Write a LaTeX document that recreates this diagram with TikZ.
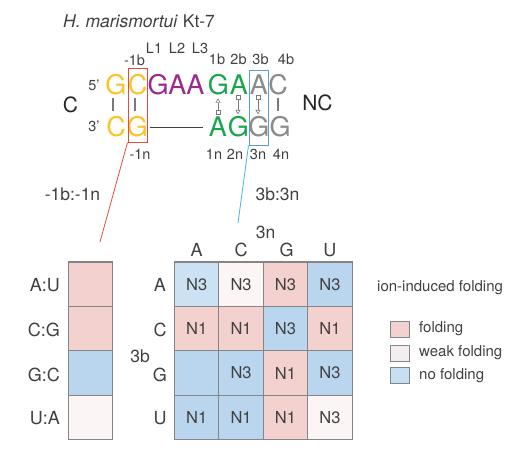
\documentclass[tikz,border=0pt]{standalone}
\usepackage{fontspec}
\setmainfont{TeX Gyre Heros}
\usetikzlibrary{arrows.meta}
\definecolor{txt}{HTML}{404040}
\definecolor{yel}{HTML}{FBC42B}
\definecolor{pur}{HTML}{9B2A8D}
\definecolor{grn}{HTML}{19A64B}
\definecolor{gryN}{HTML}{8A8A8A}
\definecolor{barc}{HTML}{7A7A7A}
\definecolor{redb}{HTML}{E8493F}
\definecolor{blub}{HTML}{5E9CD3}
\definecolor{cyanl}{HTML}{46B3E6}
\definecolor{gridc}{HTML}{858585}
\definecolor{pk}{HTML}{F2D1CF}
\definecolor{bl}{HTML}{B9D6EE}
\definecolor{lb}{HTML}{CCE2F4}
\definecolor{wp}{HTML}{FCF5F5}
\definecolor{wg}{HTML}{F3EFEE}
\definecolor{lgb}{HTML}{C7DFF3}
\begin{document}
\begin{tikzpicture}[x=1pt,y=-1pt,
  every node/.style={inner sep=0pt, text=txt},
  big/.style={font=\fontsize{27}{30}\selectfont, anchor=base},
  lab/.style={font=\fontsize{14.5}{16}\selectfont, anchor=base},
  mid/.style={font=\fontsize{15}{17}\selectfont},
  pl/.style={font=\fontsize{17.5}{20}\selectfont},
  hdr/.style={font=\fontsize{18}{20}\selectfont},
  cell/.style={draw=gridc, line width=1.1pt, minimum width=44.4pt, minimum height=44.4pt, font=\fontsize{16.5}{18}\selectfont},
  bar/.style={draw=barc, line width=1.1pt},
  sq/.style={draw=barc, line width=0.6pt, minimum size=4.3pt},
  harrow/.style={draw=barc, line width=0.6pt, -{Triangle[open, width=5pt, length=4.4pt]}},
  swatch/.style={draw=gridc, line width=0.8pt, minimum width=19pt, minimum height=16pt}
]
\useasboundingbox (0,0) rectangle (517,450);

% title
\node[anchor=base west, font=\fontsize{17.5}{20}\selectfont] (title) at (63,27.5) {\textit{H. marismortui} Kt-7};

% side labels
\node[anchor=base, font=\fontsize{21}{24}\selectfont, text=black!85] (Cl) at (70.5,112) {C};
\node[anchor=base, font=\fontsize{21}{24}\selectfont, text=black!85] (NCl) at (317.5,110.5) {NC};
\node[lab] (p5) at (94,90.5) {5'};
\node[lab] (p3) at (94,131.5) {3'};

% top strand
\node[big, text=yel] (t1) at (116,94) {G};
\node[big, text=yel] (t2) at (137.5,94) {C};
\node[big, text=pur] (loop) at (176,94) {GAA};
\node[big, text=grn] (t3) at (218.5,94) {G};
\node[big, text=grn] (t4) at (239,94) {A};
\node[big, text=gryN] (t5) at (259,94) {A};
\node[big, text=gryN] (t6) at (278,94) {C};
% bottom strand
\node[big, text=yel] (b1) at (116,136) {C};
\node[big, text=yel] (b2) at (137.5,136) {G};
\node[big, text=grn] (b3) at (218,136) {A};
\node[big, text=grn] (b4) at (238.5,136) {G};
\node[big, text=gryN] (b5) at (259,136) {G};
\node[big, text=gryN] (b6) at (280,136) {G};

% base-pair bars
\coordinate (k1a) at (113,98); \coordinate (k1b) at (113,111);
\coordinate (k2a) at (135,98); \coordinate (k2b) at (135,111);
\coordinate (k3a) at (278,98); \coordinate (k3b) at (278,111);
\draw[bar] (k1a) -- (k1b);
\draw[bar] (k2a) -- (k2b);
\draw[bar] (k3a) -- (k3b);
% backbone line
\coordinate (lnA) at (150,127); \coordinate (lnB) at (203,127);
\draw[draw=txt, line width=0.8pt] (lnA) -- (lnB);

% non-canonical interaction symbols
\node[sq] (s1) at (218,112) {};
\coordinate (e1) at (218,98.3);
\draw[harrow] (s1.north) -- (e1);
\node[sq] (s2) at (238,97.3) {};
\coordinate (e2) at (238,114.3);
\draw[harrow] (s2.south) -- (e2);
\node[sq] (s3) at (258,97.3) {};
\coordinate (e3) at (258,114.3);
\draw[harrow] (s3.south) -- (e3);

% position labels
\node[lab] (lm1b) at (134.5,65) {-1b};
\node[lab] (lL1) at (154,53.5) {L1};
\node[lab] (lL2) at (177,53.5) {L2};
\node[lab] (lL3) at (200,53.5) {L3};
\node[lab] (l1b) at (217,64.5) {1b};
\node[lab] (l2b) at (238.5,64.5) {2b};
\node[lab] (l3b) at (260.5,64.5) {3b};
\node[lab] (l4b) at (286,64.5) {4b};
\node[lab] (lm1n) at (140,159.5) {-1n};
\node[lab] (l1n) at (214,159.5) {1n};
\node[lab] (l2n) at (235,159.5) {2n};
\node[lab] (l3n) at (258,159.5) {3n};
\node[lab] (l4n) at (281,159.5) {4n};

% highlight boxes
\node[draw=redb, line width=1pt, minimum width=19pt, minimum height=74pt] (redbox) at (137.5,105) {};
\node[draw=blub, line width=1pt, minimum width=19pt, minimum height=75pt] (bluebox) at (258.5,107.5) {};
\coordinate (redend) at (100,242);
\coordinate (blueend) at (238,223);
\draw[redb, line width=0.8pt] (redbox.south west) -- (redend);
\draw[cyanl, line width=0.8pt] (bluebox.south west) -- (blueend);

\node[pl] (pairlab) at (72.5,194) {-1b:-1n};
\node[pl] (pairlab2) at (277.5,194) {3b:3n};
\node[pl] (lab3n) at (265.5,232) {3n};
\node[pl] (lab3b) at (140,356.5) {3b};

% left column
\node[cell, fill=pk] (c1) at (90.5,284.2) {};
\node[cell, fill=pk] (c2) at (90.5,328.6) {};
\node[cell, fill=bl] (c3) at (90.5,373) {};
\node[cell, fill=wp] (c4) at (90.5,417.4) {};
\node[hdr, anchor=east] (r1) at (60,285) {A:U};
\node[hdr, anchor=east] (r2) at (60,330) {C:G};
\node[hdr, anchor=east] (r3) at (60,374.5) {G:C};
\node[hdr, anchor=east] (r4) at (60,418) {U:A};

% column and row headers
\node[hdr] (hA) at (196.7,250) {A};
\node[hdr] (hC) at (241.1,250) {C};
\node[hdr] (hG) at (286.5,250) {G};
\node[hdr] (hU) at (329.9,250) {U};
\node[hdr] (vA) at (160,285) {A};
\node[hdr] (vC) at (160,330) {C};
\node[hdr] (vG) at (160,375) {G};
\node[hdr] (vU) at (160,418) {U};

% matrix
\node[cell, fill=lb] (m11) at (196.7,284.2) {N3};
\node[cell, fill=wp] (m12) at (241.1,284.2) {N3};
\node[cell, fill=pk] (m13) at (285.5,284.2) {N3};
\node[cell, fill=bl] (m14) at (329.9,284.2) {N3};
\node[cell, fill=pk] (m21) at (196.7,328.6) {N1};
\node[cell, fill=pk] (m22) at (241.1,328.6) {N1};
\node[cell, fill=bl] (m23) at (285.5,328.6) {N3};
\node[cell, fill=pk] (m24) at (329.9,328.6) {N1};
\node[cell, fill=bl] (m31) at (196.7,373) {};
\node[cell, fill=bl] (m32) at (241.1,373) {N3};
\node[cell, fill=pk] (m33) at (285.5,373) {N1};
\node[cell, fill=bl] (m34) at (329.9,373) {N3};
\node[cell, fill=bl] (m41) at (196.7,417.4) {N1};
\node[cell, fill=bl] (m42) at (241.1,417.4) {N1};
\node[cell, fill=pk] (m43) at (285.5,417.4) {N1};
\node[cell, fill=wp] (m44) at (329.9,417.4) {N3};

% legend
\node[mid, anchor=west] (legt) at (377,288) {ion-induced folding};
\node[swatch, fill=pk] (sw1) at (399.5,329.5) {};
\node[swatch, fill=wg] (sw2) at (399.5,353.5) {};
\node[swatch, fill=lgb] (sw3) at (399.5,375) {};
\node[mid, anchor=west] (lg1) at (419,329) {folding};
\node[mid, anchor=west] (lg2) at (419,353) {weak folding};
\node[mid, anchor=west] (lg3) at (419,376) {no folding};
\end{tikzpicture}
\end{document}
